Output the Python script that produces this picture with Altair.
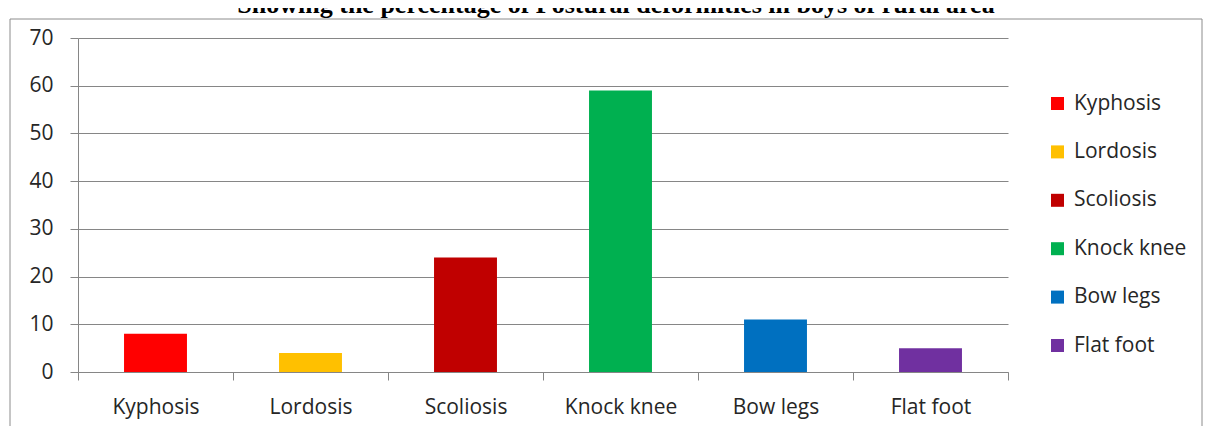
import altair as alt
import pandas as pd

categories = ["Kyphosis", "Lordosis", "Scoliosis", "Knock knee", "Bow legs", "Flat foot"]
percentages = [8, 4, 24, 59, 11, 5]
bar_colors = ["#FF0000", "#FFC000", "#C00000", "#00B050", "#0070C0", "#7030A0"]
y_ticks = [0, 10, 20, 30, 40, 50, 60, 70]
title_text = "Showing the percentage of Postural deformities in boys of rural area"

df = pd.DataFrame({"Deformity": categories, "Percentage": percentages})
meta = pd.DataFrame({"label": [title_text]})

PLOT_W, PLOT_H = 930, 334
FONT = "Open Sans"
TEXT = "#262626"
LINE = "#868686"

bars = alt.Chart(df).mark_bar(width=alt.RelativeBandSize(0.406)).encode(
    x=alt.X(
        "Deformity:N", sort=categories,
        scale=alt.Scale(paddingInner=0, paddingOuter=0),
        axis=alt.Axis(title=None, labelAngle=0, tickBand="extent", tickSize=8,
                      tickColor=LINE, domainColor=LINE, labelFontSize=21, labelFont=FONT,
                      labelColor=TEXT, labelPadding=16, grid=False),
    ),
    y=alt.Y(
        "Percentage:Q", scale=alt.Scale(domain=[0, 70], nice=False),
        axis=alt.Axis(title=None, values=y_ticks, tickSize=8, tickColor=LINE,
                      domainColor=LINE, gridColor=LINE, grid=True, labelFontSize=21,
                      labelFont=FONT, labelColor=TEXT, labelPadding=17),
    ),
    color=alt.Color(
        "Deformity:N", sort=categories,
        scale=alt.Scale(domain=categories, range=bar_colors),
        legend=alt.Legend(title=None, orient="none", legendX=969, legendY=55,
                          symbolType="square", symbolSize=169, symbolStrokeWidth=0,
                          labelFontSize=21, labelFont=FONT, labelColor=TEXT,
                          rowPadding=26.4, labelOffset=6, padding=0),
    ),
)

title = alt.Chart(meta).mark_text(
    font="Liberation Serif", fontWeight="bold", fontSize=26, align="center",
    baseline="alphabetic", color="#000000",
).encode(text="label:N", x=alt.value(538), y=alt.value(-25))

frame = alt.Chart(meta).mark_rect(fillOpacity=0, stroke="#8c8c8c", strokeWidth=1).encode(
    x=alt.value(-68), x2=alt.value(1124), y=alt.value(-19), y2=alt.value(500)
)

chart = alt.layer(frame, bars, title).properties(
    width=PLOT_W, height=PLOT_H,
    padding={"left": 70, "top": 30, "right": 195, "bottom": 54},
    autosize=alt.AutoSizeParams(type="none"),
).configure_view(strokeWidth=0)

chart.save("out.html", embed_options={"renderer": "svg", "actions": False})
